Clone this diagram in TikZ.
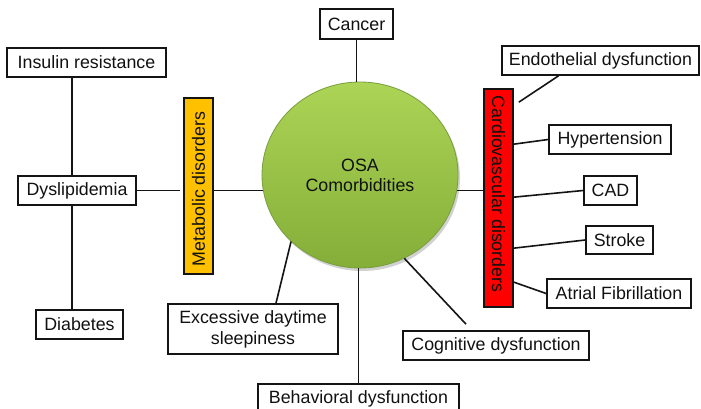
\documentclass[tikz,border=0pt]{standalone}
\usepackage{fontspec}
\setmainfont{Liberation Sans}
\usetikzlibrary{shapes.geometric,calc}
\definecolor{lineC}{HTML}{141414}
\definecolor{txtC}{HTML}{111111}
\definecolor{osaTop}{RGB}{172,212,86}
\definecolor{osaBot}{RGB}{132,174,56}
\definecolor{osaEdge}{RGB}{120,158,60}
\definecolor{metaC}{HTML}{FFC000}
\definecolor{cardC}{HTML}{FF0000}
\begin{document}
\begin{tikzpicture}[x=1pt,y=-1pt,
  box/.style={draw=lineC, line width=1.7pt, fill=white, inner sep=0pt, align=center,
    font=\fontsize{17.8}{21}\selectfont, text=txtC},
  bar/.style={draw=lineC, line width=1.7pt, inner sep=0pt, minimum width=29pt},
  barlabel/.style={inner sep=0pt, font=\fontsize{17.8}{21}\selectfont, text=txtC},
  conn/.style={draw=lineC, line width=1.6pt}
]
\clip (0,0) rectangle (701,408);
\fill[white] (0,0) rectangle (701,408);

% central ellipse (soft shadow + body)
\fill[black!18] (362,178) ellipse [x radius=98pt, y radius=93pt];
\node[ellipse, minimum width=196pt, minimum height=186pt, top color=osaTop, bottom color=osaBot,
  draw=osaEdge, line width=0.8pt, inner sep=0pt, align=center,
  font=\fontsize{17.8}{20}\selectfont, text=txtC] (osa) at (360,175) {OSA\\Comorbidities};

% metabolic side
\node[box, minimum width=159pt, minimum height=29pt] (ins) at (86.5,62.5) {Insulin resistance};
\node[box, minimum width=118pt, minimum height=29pt] (dys) at (77,190.5) {Dyslipidemia};
\node[box, minimum width=87pt, minimum height=29pt] (dia) at (79.5,324.5) {Diabetes};
\node[bar, fill=metaC, minimum height=176pt] (meta) at (198.5,186) {};
\node[barlabel, rotate=90] (metalabel) at (198.5,189) {Metabolic disorders};

% top
\node[box, minimum width=73pt, minimum height=30pt] (cancer) at (356.5,24) {Cancer};

% cardiovascular side
\node[bar, fill=cardC, minimum height=218pt] (cardio) at (498.5,198) {};
\node[barlabel, rotate=-90] (cardiolabel) at (498.5,194) {Cardiovascular disorders};
\node[box, minimum width=197pt, minimum height=29pt] (endo) at (600.5,60.5) {Endothelial dysfunction};
\node[box, minimum width=122pt, minimum height=29pt] (hyp) at (610,139.5) {Hypertension};
\node[box, minimum width=53pt, minimum height=29pt] (cad) at (610.5,190.5) {CAD};
\node[box, minimum width=67pt, minimum height=28pt] (stroke) at (619.5,240) {Stroke};
\node[box, minimum width=144pt, minimum height=29pt] (atr) at (619,293.5) {Atrial Fibrillation};

% bottom
\node[box, minimum width=170pt, minimum height=50pt] (exc) at (253,329) {Excessive daytime\\sleepiness};
\node[box, minimum width=186pt, minimum height=29pt] (cog) at (496,345.5) {Cognitive dysfunction};
\node[box, minimum width=201pt, minimum height=29pt] (beh) at (358.5,398.5) {Behavioral dysfunction};

% connectors
\draw[conn] ([xshift=-14.5pt]ins.south) -- ([xshift=-14.5pt]ins.south |- dys.north);
\draw[conn] ([xshift=-5pt]dys.south) -- ([xshift=-5pt]dys.south |- dia.north);
\draw[conn] (dys.east) -- ([xshift=-3pt]dys.east -| meta.west);
\draw[conn] (osa.189) -- (osa.189 -| meta.east);
\draw[conn] (cancer.south) -- (cancer.south |- osa.north);
\draw[conn] (osa.351) -- (osa.351 -| cardio.west);
\draw[conn] ($(cardio.north east)+(5,14)$) -- ($(endo.south)+(-42,0)$);
\draw[conn] ($(cardio.north east)+(0,56)$) -- (hyp.west);
\draw[conn] ($(cardio.north east)+(0,109)$) -- (cad.west);
\draw[conn] ($(cardio.north east)+(0,160)$) -- (stroke.west);
\draw[conn] ($(cardio.north east)+(0,194)$) -- (atr.west);
\draw[conn] ([xshift=23pt]exc.north) -- (osa.224);
\draw[conn] ([xshift=-30pt,yshift=6pt]cog.north) -- (osa.298);
\draw[conn] (beh.north) -- (beh.north |- osa.south);
\end{tikzpicture}
\end{document}
